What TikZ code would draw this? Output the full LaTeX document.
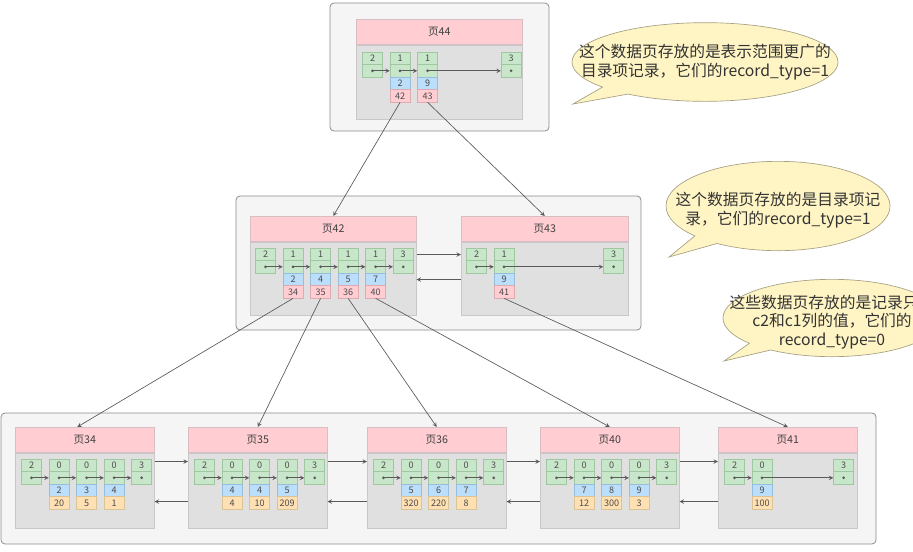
\documentclass[tikz,border=0pt]{standalone}
\usepackage{fontspec}
\setmainfont{Noto Sans CJK SC}
\usepackage{tikz}
\usetikzlibrary{matrix, positioning, shapes.callouts, arrows}
\usepackage{xcolor}
\definecolor{hdpink}{RGB}{255,205,210}
\definecolor{bodygray}{RGB}{224,224,224}
\definecolor{cellgreen}{RGB}{200,230,201}
\definecolor{cellblue}{RGB}{187,222,251}
\definecolor{cellorange}{RGB}{255,224,178}
\definecolor{notefill}{RGB}{255,244,196}
\definecolor{linegray}{RGB}{90,90,90}
\tikzstyle{arrow} = [line width=0.5pt,draw=linegray,->,>=stealth]
\newcommand{\linkcell}{\phantom{0}}

\begin{document}
\begin{tikzpicture}[x=0.75pt, y=-0.75pt,
    frame/.style={draw={rgb,255:red,140;green,140;blue,140}, fill={rgb,255:red,245;green,245;blue,245}, rounded corners=3pt, line width=0.6pt},
    pg-head/.style={draw={rgb,255:red,215;green,190;blue,192}, fill=hdpink, anchor=north west, minimum height=18.75pt, inner sep=0pt, font=\fontsize{8}{9}\selectfont, text=black!75},
    pg-body/.style={draw={rgb,255:red,200;green,200;blue,200}, fill=bodygray, anchor=north west, inner sep=0pt},
    gcell/.style={fill=cellgreen, draw={rgb,255:red,160;green,200;blue,160}},
    bcell/.style={fill=cellblue, draw={rgb,255:red,150;green,190;blue,220}},
    pcell/.style={fill=hdpink, draw={rgb,255:red,220;green,170;blue,175}},
    ocell/.style={fill=cellorange, draw={rgb,255:red,220;green,195;blue,150}},
    2d-arr/.style={matrix of nodes, anchor=north west, inner sep=0pt, row sep=-\pgflinewidth, column sep=5.25pt,
      nodes={draw, minimum width=15pt, minimum height=9.375pt, inner sep=0pt, text height=4.8pt, text depth=0pt, font=\fontsize{6.8}{7}\selectfont, text=black!70},
      row 1/.style={nodes={gcell}}, row 2/.style={nodes={gcell}}, row 3/.style={nodes={bcell}}},
    idx/.style={2d-arr, row 4/.style={nodes={pcell}}},
    leaf/.style={2d-arr, row 4/.style={nodes={ocell}}},
    note/.style={ellipse callout, draw={rgb,255:red,165;green,160;blue,130}, fill=notefill, inner sep=0pt, line width=0.5pt},
    note-text/.style={align=center, font=\fontsize{11.8}{14}\selectfont, text=black!80}
  ]

  \clip (0,0) rectangle (913,551);

  % containers
  \draw[frame] (330,3) rectangle (549,131);
  \draw[frame] (236,196) rectangle (641,330);
  \draw[frame] (1,413) rectangle (876,544);

  % root page
  \node[pg-head, minimum width=124.5pt] (h44) at (356,19) {页44};
  \node[pg-body, minimum width=124.5pt, minimum height=55.5pt] (b44) at (h44.south west) {};
  \matrix (p44) [idx] at ([shift={(6,7)}]b44.north west) {
    2 & 1 & 1 &[42pt] 3 \\
    \linkcell & \linkcell & \linkcell & \linkcell \\
      & 2 & 9 & \\
      & 42 & 43 & \\
  };

  % second level
  \node[pg-head, minimum width=124.5pt] (h42) at (250,216) {页42};
  \node[pg-body, minimum width=124.5pt, minimum height=54.75pt] (b42) at (h42.south west) {};
  \matrix (p42) [idx] at ([shift={(5,6)}]b42.north west) {
    2 & 1 & 1 & 1 & 1 & 3 \\
    \linkcell & \linkcell & \linkcell & \linkcell & \linkcell & \linkcell \\
      & 2 & 4 & 5 & 7 & \\
      & 34 & 35 & 36 & 40 & \\
  };

  \node[pg-head, minimum width=125.25pt] (h43) at (461,216) {页43};
  \node[pg-body, minimum width=125.25pt, minimum height=54.75pt] (b43) at (h43.south west) {};
  \matrix (p43) [idx] at ([shift={(5,6)}]b43.north west) {
    2 & 1 &[61.5pt] 3 \\
    \linkcell & \linkcell & \linkcell \\
      & 9 & \\
      & 41 & \\
  };

  % leaf pages
  \foreach \n/\x in {34/15, 35/188, 36/367, 40/540, 41/718} {
    \node[pg-head, minimum width=104.25pt] (h\n) at (\x,427) {页\n};
    \node[pg-body, minimum width=104.25pt, minimum height=56.25pt] (b\n) at (h\n.south west) {};
  }
  \matrix (p34) [leaf] at ([shift={(6,6)}]b34.north west) {
    2 & 0 & 0 & 0 & 3 \\
    \linkcell & \linkcell & \linkcell & \linkcell & \linkcell \\
      & 2 & 3 & 4 & \\
      & 20 & 5 & 1 & \\
  };
  \matrix (p35) [leaf] at ([shift={(6,6)}]b35.north west) {
    2 & 0 & 0 & 0 & 3 \\
    \linkcell & \linkcell & \linkcell & \linkcell & \linkcell \\
      & 4 & 4 & 5 & \\
      & 4 & 10 & 209 & \\
  };
  \matrix (p36) [leaf] at ([shift={(6,6)}]b36.north west) {
    2 & 0 & 0 & 0 & 3 \\
    \linkcell & \linkcell & \linkcell & \linkcell & \linkcell \\
      & 5 & 6 & 7 & \\
      & 320 & 220 & 8 & \\
  };
  \matrix (p40) [leaf] at ([shift={(6,6)}]b40.north west) {
    2 & 0 & 0 & 0 & 3 \\
    \linkcell & \linkcell & \linkcell & \linkcell & \linkcell \\
      & 7 & 8 & 9 & \\
      & 12 & 300 & 3 & \\
  };
  \matrix (p41) [leaf] at ([shift={(6,6)}]b41.north west) {
    2 & 0 &[40.5pt] 3 \\
    \linkcell & \linkcell & \linkcell \\
      & 9 & \\
      & 100 & \\
  };

  % record chains
  \foreach \p/\k in {p44/4, p42/6, p43/3, p34/5, p35/5, p36/5, p40/5, p41/3} {
    \fill[linegray] (\p-2-1) circle (1.5);
    \foreach \j [evaluate=\j as \i using int(\j-1)] in {2,...,\k} {
      \draw[arrow] (\p-2-\i.center) -- (\p-2-\j.west);
      \fill[linegray] (\p-2-\j) circle (1.5);
    }
  }

  % child pointers
  \draw[arrow] (p44-4-2.south) -- (h42.north);
  \draw[arrow] (p44-4-3.south) -- (h43.north);
  \draw[arrow] (p42-4-2.south) -- ([xshift=-5.6pt]h34.north);
  \draw[arrow] (p42-4-3.south) -- (h35.north);
  \draw[arrow] (p42-4-4.south) -- (h36.north);
  \draw[arrow] (p42-4-5.south) -- (h40.north);
  \draw[arrow] (p43-4-2.south) -- (h41.north);

  % sibling links
  \draw[arrow] ([yshift=-9.75pt]b42.north east) -- ([yshift=-9.75pt]b43.north west);
  \draw[arrow] ([yshift=-28.5pt]b43.north west) -- ([yshift=-28.5pt]b42.north east);
  \foreach \a/\b in {34/35, 35/36, 36/40, 40/41} {
    \draw[arrow] ([yshift=-6.75pt]b\a.north east) -- ([yshift=-6.75pt]b\b.north west);
    \draw[arrow] ([yshift=-36.75pt]b\b.north west) -- ([yshift=-36.75pt]b\a.north east);
  }

  % notes
  \node[note, minimum width=199.5pt, minimum height=59pt, callout absolute pointer={(573,104)}] (n44) at (705,62) {};
  \node[note-text] (t44) at (n44.center) {这个数据页存放的是表示范围更广的\\目录项记录，它们的record\_type=1};

  \node[note, minimum width=168pt, minimum height=67pt, callout absolute pointer={(669,257)}] (n42) at (778,206) {};
  \node[note-text] (t42) at ([yshift=-3pt]n42.center) {这个数据页存放的是目录项记\\录，它们的record\_type=1};

  \node[note, minimum width=163.5pt, minimum height=58pt, callout absolute pointer={(724,361)}] (n34) at (832,318) {};
  \node[note-text] (t34) at ([yshift=-3pt]n34.center) {这些数据页存放的是记录只\hspace*{1em}\\c2和c1列的值，它们的\\record\_type=0};

\end{tikzpicture}
\end{document}
